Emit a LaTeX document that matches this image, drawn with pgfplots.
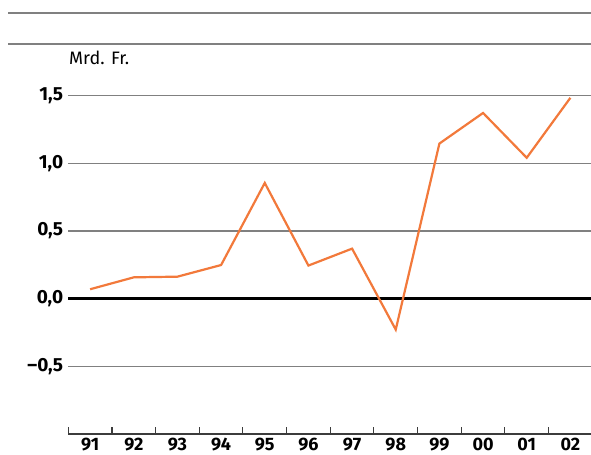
\documentclass[border=0pt]{standalone}
\usepackage{pgfplots}
\pgfplotsset{compat=1.18}
\usepackage{fontspec}
\setmainfont{Fira Sans}
\definecolor{lineorange}{RGB}{242,121,59}
\definecolor{gridgrey}{RGB}{128,128,128}
\definecolor{axisgrey}{RGB}{60,60,60}
\begin{document}
\begin{tikzpicture}
\path[use as bounding box] (0,0) rectangle (591bp,455bp);
\draw[gridgrey, line width=1.3bp] (8bp,442bp) -- (591bp,442bp);
\draw[gridgrey, line width=1.3bp] (8bp,411bp) -- (591bp,411bp);
\node[anchor=base west, inner sep=0pt, font=\fontsize{18bp}{21bp}\selectfont] at (69bp,390bp) {Mrd. Fr.};
\begin{axis}[
  at={(68.3bp,21bp)}, anchor=south west,
  scale only axis,
  width=522.6bp, height=372.35bp,
  xmin=-0.5, xmax=11.47,
  ymin=-1, ymax=1.75,
  clip=false,
  separate axis lines,
  axis x line*=bottom,
  axis y line*=left,
  x axis line style={axisgrey, line width=1.3bp, -},
  y axis line style={draw=none},
  xtick={0,...,11},
  xticklabels={91,92,93,94,95,96,97,98,99,00,01,02},
  minor xtick={-0.5,0.5,...,10.5},
  major tick length=0pt,
  minor tick length=7bp,
  major tick style={draw=none},
  minor tick style={axisgrey, line width=1.1bp},
  ytick={-0.5,0,0.5,1,1.5},
  yticklabels={{\textendash0,5},{0,0},{0,5},{1,0},{1,5}},
  ymajorgrids,
  grid style={gridgrey, line width=1.3bp},
  xticklabel style={font=\fontsize{18bp}{21bp}\selectfont\bfseries, inner sep=0pt, anchor=north, yshift=-4bp},
  yticklabel style={font=\fontsize{19bp}{22bp}\selectfont\bfseries, inner sep=0pt, anchor=east, xshift=-5bp},
]
\addplot[black, line width=2.2bp, forget plot] coordinates {(-0.5,0) (11.47,0)};
\addplot[lineorange, line width=2.2bp, mark=none] coordinates {
(0,0.069) (1,0.157) (2,0.162) (3,0.248) (4,0.854) (5,0.244)
(6,0.369) (7,-0.229) (8,1.145) (9,1.371) (10,1.040) (11,1.483)
};
\end{axis}
\end{tikzpicture}
\end{document}
